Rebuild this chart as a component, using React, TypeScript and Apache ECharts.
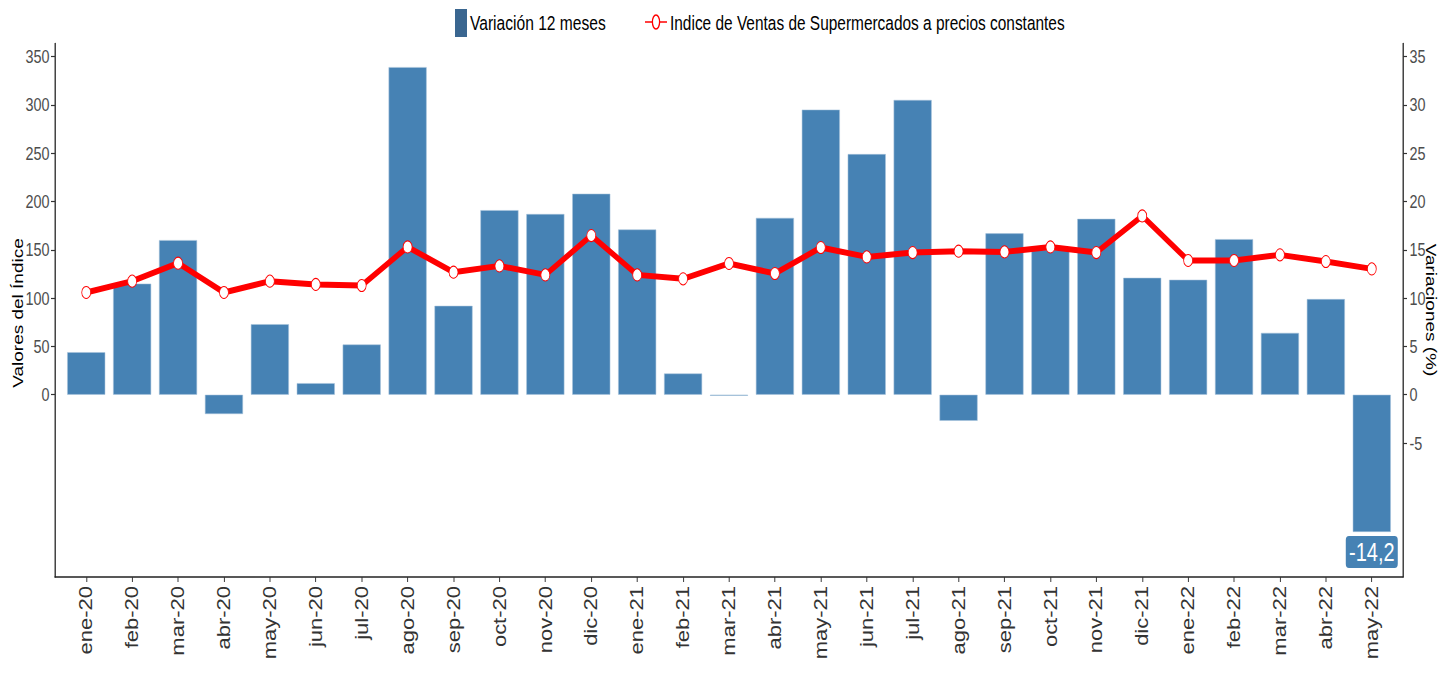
import React, { useEffect, useRef } from "react";
import * as echarts from "echarts";

const categories = [
  "ene-20", "feb-20", "mar-20", "abr-20", "may-20", "jun-20", "jul-20", "ago-20", "sep-20", "oct-20",
  "nov-20", "dic-20", "ene-21", "feb-21", "mar-21", "abr-21", "may-21", "jun-21", "jul-21", "ago-21",
  "sep-21", "oct-21", "nov-21", "dic-21", "ene-22", "feb-22", "mar-22", "abr-22", "may-22",
];

// Variación 12 meses (%), right axis
const variacion = [
  4.4, 11.5, 16.0, -2.0, 7.3, 1.2, 5.2, 33.9, 9.2, 19.1,
  18.7, 20.8, 17.1, 2.2, -0.1, 18.3, 29.5, 24.9, 30.5, -2.7,
  16.7, 15.0, 18.2, 12.1, 11.9, 16.1, 6.4, 9.9, -14.2,
];

// Indice de Ventas de Supermercados a precios constantes, left axis
const indice = [
  105.8, 117.5, 136.1, 105.8, 117.5, 114.1, 113.0, 152.9, 126.8, 133.3,
  124.0, 164.7, 124.0, 119.9, 135.8, 125.4, 152.3, 142.6, 147.1, 148.5,
  147.8, 152.9, 147.1, 185.0, 138.9, 138.9, 144.7, 137.8, 130.2,
];

const leftTicks = [0, 50, 100, 150, 200, 250, 300, 350];
const rightTicks = [-5, 0, 5, 10, 15, 20, 25, 30, 35];

const leftTitle = "Valores del Índice";
const rightTitle = "Variaciones (%)";

const FONT = "'Liberation Sans', Arial, sans-serif";

// the reference is horizontally condensed; the chart is drawn wider and squeezed
const K = 0.8;
const W = 1448;
const H = 677;
const X = (v: number) => v / K;

export default function App() {
  const ref = useRef<HTMLDivElement>(null);

  useEffect(() => {
    if (!ref.current) return;
    const chart = echarts.init(ref.current, undefined, { renderer: "svg" });
    const idx = categories.map((_, i) => i);
    const lastIdx = categories.length - 1;

    chart.setOption({
      animation: false,
      backgroundColor: "#ffffff",
      grid: {
        left: X(55),
        right: X(45),
        top: 43.6,
        bottom: 100,
        containLabel: false,
        outerBoundsMode: "none",
      },
      xAxis: {
        type: "value",
        min: -0.68,
        max: categories.length - 1 + 0.68,
        axisLine: { show: true, onZero: false, lineStyle: { color: "#222", width: 1.6 } },
        axisTick: { show: true, customValues: idx, length: 5, lineStyle: { color: "#333", width: 1.2 } },
        axisLabel: {
          customValues: idx,
          rotate: 90,
          margin: 9,
          fontFamily: FONT,
          fontSize: 22,
          color: "#333",
          formatter: (v: number) => categories[Math.round(v)],
        },
        splitLine: { show: false },
      },
      yAxis: [
        {
          type: "value",
          position: "left",
          min: -188.6,
          max: 363.3,
          axisLine: { show: true, onZero: false, lineStyle: { color: "#222", width: 1.6 } },
          axisTick: { show: true, customValues: leftTicks, length: 5, lineStyle: { color: "#333", width: 1.2 } },
          axisLabel: { customValues: leftTicks, fontFamily: FONT, fontSize: 18, color: "#4d4d4d", margin: 7 },
          splitLine: { show: false },
        },
        {
          type: "value",
          position: "right",
          min: -18.86,
          max: 36.33,
          axisLine: { show: true, onZero: false, lineStyle: { color: "#222", width: 1.6 } },
          axisTick: { show: true, customValues: rightTicks, length: 5, lineStyle: { color: "#333", width: 1.2 } },
          axisLabel: { customValues: rightTicks, fontFamily: FONT, fontSize: 18, color: "#4d4d4d", margin: 8 },
          splitLine: { show: false },
        },
      ],
      graphic: [
        {
          type: "text",
          x: X(18),
          y: 313,
          rotation: Math.PI / 2,
          style: {
            text: leftTitle,
            fontFamily: FONT,
            fontSize: 19,
            fill: "#000",
            textAlign: "center",
            textVerticalAlign: "middle",
          },
        },
        {
          type: "text",
          x: X(1431),
          y: 310,
          rotation: -Math.PI / 2,
          style: {
            text: rightTitle,
            fontFamily: FONT,
            fontSize: 19,
            fill: "#000",
            textAlign: "center",
            textVerticalAlign: "middle",
          },
        },
        {
          type: "rect",
          shape: { x: X(455), y: 9, width: X(12), height: 28 },
          style: { fill: "#3a6690" },
        },
        {
          type: "text",
          x: X(470),
          y: 23,
          style: {
            text: "Variación 12 meses",
            fontFamily: FONT,
            fontSize: 19.5,
            fill: "#000",
            textVerticalAlign: "middle",
          },
        },
        {
          type: "line",
          shape: { x1: X(645), y1: 22, x2: X(667), y2: 22 },
          style: { stroke: "#ff0000", lineWidth: 1.5 },
        },
        {
          type: "ellipse",
          shape: { cx: X(656), cy: 22, rx: X(3.6), ry: 7 },
          style: { fill: "#ffffff", stroke: "#ff0000", lineWidth: 1.6 },
        },
        {
          type: "text",
          x: X(670),
          y: 23,
          style: {
            text: "Indice de Ventas de Supermercados a precios constantes",
            fontFamily: FONT,
            fontSize: 19.3,
            fill: "#000",
            textVerticalAlign: "middle",
          },
        },
      ],
      series: [
        {
          name: "Variación 12 meses",
          type: "bar",
          yAxisIndex: 1,
          barWidth: X(38),
          itemStyle: { color: "#4682b4", borderColor: "#a8c3dc", borderWidth: 0.6 },
          data: variacion.map((v, i) =>
            i === lastIdx
              ? {
                  value: [i, v],
                  label: {
                    show: true,
                    position: "bottom",
                    distance: 4,
                    formatter: () => String(v).replace(".", ","),
                    backgroundColor: "#4682b4",
                    borderRadius: 4,
                    padding: [4, 4, 3, 4],
                    color: "#ffffff",
                    fontFamily: FONT,
                    fontSize: 25,
                  },
                }
              : [i, v]
          ),
          z: 2,
        },
        {
          name: "Indice de Ventas de Supermercados a precios constantes",
          type: "line",
          yAxisIndex: 0,
          data: indice.map((v, i) => [i, v]),
          lineStyle: { color: "#ff0000", width: 6 },
          symbol: "circle",
          symbolSize: [X(9), 12],
          itemStyle: { color: "#ffffff", borderColor: "#ff0000", borderWidth: 1 },
          z: 3,
        },
      ],
    });

    return () => chart.dispose();
  }, []);

  return (
    <div
      style={{
        position: "fixed",
        left: 0,
        top: 0,
        width: W,
        height: H,
        overflow: "hidden",
        background: "#fff",
      }}
    >
      <div
        ref={ref}
        style={{
          width: X(W),
          height: H,
          transform: `scaleX(${K})`,
          transformOrigin: "0 0",
        }}
      />
    </div>
  );
}
